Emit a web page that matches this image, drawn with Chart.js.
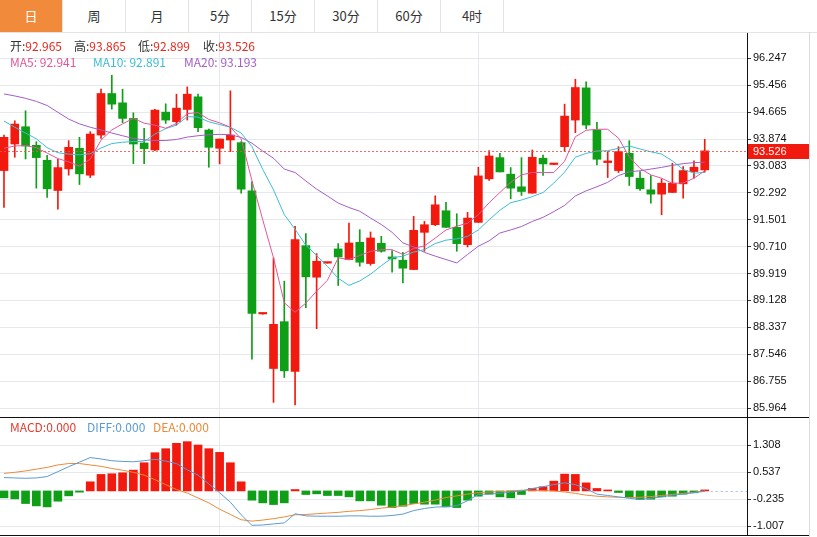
<!DOCTYPE html>
<html>
<head>
<meta charset="utf-8">
<script src="https://cdn.jsdelivr.net/npm/chart.js@4.4.1/dist/chart.umd.min.js"></script>
<style>
    html, body { margin: 0; padding: 0; background: #fff; }
    #wrap { position: relative; width: 817px; height: 537px; overflow: hidden; font-family: "Noto Sans CJK SC", "Noto Sans", sans-serif; }
    .tabs { position: absolute; left: 0; top: 0; width: 817px; height: 32px; border-bottom: 1px solid #e3e3e3; }
    .tab { position: absolute; top: 0; width: 62px; height: 32px; line-height: 32px; text-align: center; font-size: 13px; color: #333; border-right: 1px solid #e3e3e3; }
    .tab.on { background: #f28a3c; color: #fff; }
    .box { position: absolute; left: 0; width: 817px; }
    #mainBox { top: 33px; height: 384px; }
    #macdBox { top: 418px; height: 117px; }
    .hline { position: absolute; left: 0; width: 809px; height: 1px; background: #111; }
    .vline { position: absolute; left: 809px; top: 32px; width: 1px; height: 505px; background: #dadada; }
    .info { position: absolute; font-size: 12px; line-height: 16px; white-space: nowrap; z-index: 2; }
    .k { color: #333; }
    .v { color: #e8291d; }
</style>
</head>
<body>
<div id="wrap">
    <div class="tabs" id="tabs"></div>
    <div class="box" id="mainBox"><canvas id="mainChart"></canvas></div>
    <div class="hline" style="top:417px"></div>
    <div class="box" id="macdBox"><canvas id="macdChart"></canvas></div>
    <div class="hline" style="top:535px"></div>
    <div class="vline"></div>

    <div class="info" style="left:10px;top:38px"><span class="k">开:</span><span class="v" id="qOpen"></span></div>
    <div class="info" style="left:74px;top:38px"><span class="k">高:</span><span class="v" id="qHigh"></span></div>
    <div class="info" style="left:138px;top:38px"><span class="k">低:</span><span class="v" id="qLow"></span></div>
    <div class="info" style="left:203px;top:38px"><span class="k">收:</span><span class="v" id="qClose"></span></div>

    <div class="info" style="left:10px;top:54px;color:#e2579a" id="lblMa5"></div>
    <div class="info" style="left:93px;top:54px;color:#3dbdd6" id="lblMa10"></div>
    <div class="info" style="left:184px;top:54px;color:#a45ec6" id="lblMa20"></div>

    <div class="info" style="left:10px;top:419px;color:#e53a2e">MACD:0.000</div>
    <div class="info" style="left:87px;top:419px;color:#5b9bd5">DIFF:0.000</div>
    <div class="info" style="left:153px;top:419px;color:#ec8a3a">DEA:0.000</div>
</div>
<script>
// ---- data ----
const tabLabels = ['日', '周', '月', '5分', '15分', '30分', '60分', '4时'];

const opens = [92.946, 93.727, 94.235, 93.688, 93.249, 92.36, 92.995, 93.601, 92.81, 93.991,
    95.212, 94.938, 94.479, 93.757, 93.552, 94.665, 94.382, 94.743, 95.114, 94.138,
    93.601, 93.845, 93.767, 92.351, 88.73, 87.126, 88.503, 87.038, 90.739, 89.811,
    90.225, 90.642, 90.329, 90.837, 90.212, 90.808, 90.407, 90.31, 90.036, 91.13,
    91.354, 91.765, 91.276, 90.768, 91.423, 92.702, 93.327, 92.839, 92.468, 92.282,
    93.308, 93.125, 93.649, 94.431, 95.378, 94.138, 93.181, 92.946, 93.454, 92.722,
    92.38, 92.253, 92.302, 92.556, 92.917, 92.965];
const highs = [93.99, 94.41, 94.704, 93.796, 93.396, 93.278, 93.825, 93.923, 94.089, 95.339,
    95.749, 95.339, 94.645, 94.186, 94.75, 94.909, 95.192, 95.407, 95.192, 94.167,
    93.874, 95.29, 93.796, 92.624, 88.75, 90.378, 89.694, 91.306, 91.091, 90.505,
    90.235, 90.798, 91.403, 91.208, 91.14, 91.013, 90.593, 90.544, 91.599, 91.452,
    92.204, 92.009, 91.677, 91.716, 93.044, 93.532, 93.454, 93.034, 93.327, 93.552,
    93.405, 93.135, 94.899, 95.632, 95.554, 94.362, 93.503, 93.649, 93.825, 92.917,
    92.8, 92.702, 93.161, 93.063, 93.229, 93.865];
const lows = [91.86, 93.337, 93.288, 92.429, 92.156, 91.813, 92.81, 92.536, 92.741, 93.893,
    94.753, 94.352, 93.151, 93.151, 93.53, 94.333, 94.284, 94.431, 94.089, 93.044,
    93.142, 93.503, 92.282, 87.399, 88.72, 86.13, 86.862, 86.052, 88.913, 88.298,
    90.22, 89.567, 90.32, 90.134, 90.163, 90.544, 89.958, 89.645, 90.03, 90.573,
    91.325, 91.276, 90.573, 90.7, 91.42, 92.653, 92.907, 92.116, 92.214, 92.28,
    92.8, 93.12, 93.503, 94.06, 94.167, 93.112, 92.741, 92.887, 92.507, 92.36,
    91.989, 91.647, 92.3, 92.136, 92.722, 92.899];
const closes = [93.923, 94.313, 93.669, 93.327, 92.409, 93.034, 93.63, 92.849, 94.02, 95.212,
    94.899, 94.479, 93.727, 93.591, 94.724, 94.431, 94.782, 95.192, 94.206, 93.63,
    93.874, 93.991, 92.399, 88.747, 88.74, 88.425, 87.058, 90.915, 89.821, 90.28,
    90.231, 90.407, 90.817, 90.251, 90.964, 90.573, 90.349, 90.075, 91.188, 91.354,
    91.94, 91.276, 90.798, 91.55, 92.79, 93.376, 92.907, 92.429, 92.331, 93.337,
    93.142, 93.132, 94.548, 95.388, 94.284, 93.278, 93.229, 93.503, 92.77, 92.409,
    92.253, 92.575, 92.575, 92.946, 93.044, 93.526];

const ma5 = [93.60, 93.67, 93.68, 93.62, 93.46, 93.30, 93.20, 93.08, 93.28, 93.84,
    94.14, 94.32, 94.48, 94.34, 94.28, 94.19, 94.33, 94.62, 94.65, 94.45,
    94.35, 94.22, 93.88, 92.65, 91.50, 90.38, 89.06, 88.78, 89.05, 89.40,
    89.72, 90.38, 90.33, 90.45, 90.57, 90.62, 90.62, 90.48, 90.66, 90.73,
    90.96, 91.20, 91.31, 91.40, 91.65, 92.00, 92.30, 92.60, 92.82, 92.89,
    92.89, 92.89, 93.22, 93.94, 94.13, 94.16, 94.16, 93.90, 93.35, 93.01,
    92.82, 92.72, 92.57, 92.58, 92.72, 92.941];
const ma10 = [94.40, 94.22, 94.05, 93.88, 93.62, 93.47, 93.43, 93.41, 93.44, 93.61,
    93.74, 93.78, 93.80, 93.80, 94.02, 94.18, 94.28, 94.53, 94.52, 94.38,
    94.30, 94.22, 94.05, 93.65, 92.98, 92.38, 91.65, 91.22, 90.75, 90.45,
    90.13, 89.78, 89.57, 89.70, 89.90, 90.15, 90.38, 90.43, 90.55, 90.62,
    90.80, 90.90, 90.94, 91.01, 91.20, 91.50, 91.78, 92.00, 92.08, 92.18,
    92.30, 92.58, 92.90, 93.34, 93.45, 93.52, 93.53, 93.60, 93.67, 93.58,
    93.50, 93.43, 93.23, 92.98, 92.87, 92.891];
const ma20 = [95.20, 95.14, 95.07, 94.98, 94.86, 94.66, 94.46, 94.32, 94.22, 94.14,
    94.05, 93.97, 93.89, 93.85, 93.83, 93.83, 93.86, 93.93, 93.97, 94.00,
    94.01, 94.00, 93.92, 93.75, 93.52, 93.31, 92.99, 92.89, 92.64, 92.40,
    92.20, 91.99, 91.86, 91.75, 91.55, 91.36, 91.13, 90.82, 90.70, 90.54,
    90.43, 90.33, 90.23, 90.48, 90.72, 90.88, 91.11, 91.20, 91.30, 91.45,
    91.57, 91.74, 91.92, 92.20, 92.35, 92.47, 92.60, 92.80, 92.91, 92.94,
    92.99, 93.04, 93.10, 93.15, 93.18, 93.193];

const macdHist = [-0.197, -0.226, -0.359, -0.426, -0.455, -0.293, -0.14, -0.035, 0.26, 0.47,
    0.49, 0.517, 0.593, 0.803, 1.089, 1.203, 1.356, 1.403, 1.308, 1.203,
    1.098, 0.803, 0.26, -0.264, -0.34, -0.388, -0.34, 0.04, -0.102, -0.083,
    -0.131, -0.131, -0.169, -0.283, -0.283, -0.407, -0.474, -0.436, -0.359, -0.378,
    -0.378, -0.455, -0.474, -0.264, -0.15, -0.092, -0.169, -0.197, -0.102, 0.07,
    0.117, 0.279, 0.479, 0.47, 0.23, 0.07, 0.02, -0.045, -0.169, -0.245,
    -0.236, -0.169, -0.15, -0.092, -0.054, 0.005];
const diffLine = [0.38, 0.37, 0.36, 0.37, 0.41, 0.55, 0.69, 0.82, 0.95, 0.91,
    0.86, 0.84, 0.83, 0.86, 0.90, 0.85, 0.78, 0.60, 0.45, 0.20,
    -0.05, -0.32, -0.68, -0.98, -0.97, -0.94, -0.91, -0.65, -0.71, -0.72,
    -0.72, -0.72, -0.71, -0.71, -0.72, -0.72, -0.70, -0.66, -0.56, -0.50,
    -0.46, -0.45, -0.42, -0.28, -0.10, -0.09, -0.07, -0.03, 0.00, 0.07,
    0.12, 0.18, 0.23, 0.18, 0.06, -0.09, -0.13, -0.17, -0.21, -0.24,
    -0.21, -0.17, -0.12, -0.09, -0.05, -0.01];
const deaLine = [0.50, 0.53, 0.57, 0.62, 0.67, 0.74, 0.78, 0.78, 0.74, 0.70,
    0.64, 0.59, 0.53, 0.45, 0.32, 0.18, 0.04, -0.06, -0.20, -0.34,
    -0.52, -0.67, -0.82, -0.86, -0.83, -0.79, -0.74, -0.68, -0.67, -0.65,
    -0.63, -0.61, -0.58, -0.56, -0.53, -0.49, -0.46, -0.42, -0.37, -0.32,
    -0.26, -0.19, -0.14, -0.09, -0.05, -0.03, -0.02, 0.00, 0.02, 0.02,
    0.01, 0.00, -0.03, -0.07, -0.12, -0.15, -0.17, -0.18, -0.19, -0.18,
    -0.16, -0.13, -0.10, -0.07, -0.04, 0.00];

const priceTicks = ['96.247', '95.456', '94.665', '93.874', '93.083', '92.292', '91.501',
    '90.710', '89.919', '89.128', '88.337', '87.546', '86.755', '85.964'];
const macdTicks = ['1.308', '0.537', '-0.235', '-1.007'];
const monthBreaks = [20, 44];
const maLast = ['92.941', '92.891', '93.193'];

// ---- look ----
const UP = '#f2190e';
const DOWN = '#0f9f16';
const GRID = '#e5e9ee';
const MA_COLORS = ['#e2579a', '#3dbdd6', '#a45ec6'];
const X_MIN = -0.37, X_MAX = 68.92;
const AXIS_FONT = { family: 'Liberation Sans', size: 11 };

// tabs
const tabs = document.getElementById('tabs');
tabLabels.forEach((t, i) => {
    const d = document.createElement('div');
    d.className = 'tab' + (i === 0 ? ' on' : '');
    d.style.left = (i * 63) + 'px';
    d.textContent = t;
    tabs.appendChild(d);
});

const n = closes.length;
document.getElementById('qOpen').textContent = opens[n - 1].toFixed(3);
document.getElementById('qHigh').textContent = highs[n - 1].toFixed(3);
document.getElementById('qLow').textContent = lows[n - 1].toFixed(3);
document.getElementById('qClose').textContent = closes[n - 1].toFixed(3);
document.getElementById('lblMa5').textContent = 'MA5: ' + maLast[0];
document.getElementById('lblMa10').textContent = 'MA10: ' + maLast[1];
document.getElementById('lblMa20').textContent = 'MA20: ' + maLast[2];

const candleColors = closes.map((c, i) => c >= opens[i] ? UP : DOWN);
const wickData = closes.map((c, i) => ({ x: i, y: [lows[i], highs[i]] }));
const bodyData = closes.map((c, i) => ({ x: i, y: [Math.min(opens[i], c), Math.max(opens[i], c)] }));
const toXY = arr => arr.map((v, i) => ({ x: i, y: v }));

function xScale() {
    return {
        type: 'linear',
        min: X_MIN,
        max: X_MAX,
        bounds: 'data',
        offset: false,
        afterBuildTicks: s => { s.ticks = monthBreaks.map(v => ({ value: v })); },
        ticks: { display: false },
        grid: { color: GRID, drawTicks: false, offset: false },
        border: { display: false },
        afterFit: s => { s.height = 0; }
    };
}

function yScale(min, max, labels) {
    return {
        position: 'right',
        min: min,
        max: max,
        bounds: 'data',
        afterBuildTicks: s => { s.ticks = labels.map(t => ({ value: parseFloat(t) })); },
        ticks: {
            autoSkip: false,
            padding: 2,
            color: '#111',
            font: AXIS_FONT,
            callback: v => v.toFixed(3)
        },
        grid: { color: GRID, tickColor: '#333', tickLength: 4 },
        border: { color: '#111' },
        afterFit: s => { s.width = 70; s.paddingTop = 0; s.paddingBottom = 0; }
    };
}

const lastPricePlugin = {
    id: 'lastPrice',
    afterDatasetsDraw(chart) {
        const { ctx, chartArea, scales } = chart;
        const y = Math.round(scales.y.getPixelForValue(closes[n - 1])) + 0.5;
        ctx.save();
        ctx.strokeStyle = 'rgba(240, 80, 70, 0.85)';
        ctx.lineWidth = 1.2;
        ctx.setLineDash([2, 2]);
        ctx.beginPath();
        ctx.moveTo(chartArea.left, y);
        ctx.lineTo(chartArea.right, y);
        ctx.stroke();
        ctx.restore();
    },
    afterDraw(chart) {
        const { ctx, chartArea, scales } = chart;
        const y = Math.round(scales.y.getPixelForValue(closes[n - 1]));
        ctx.save();
        ctx.fillStyle = UP;
        ctx.fillRect(chartArea.right + 1, y - 7, 61, 15);
        ctx.fillStyle = '#fff';
        ctx.font = '11px "Liberation Sans"';
        ctx.textBaseline = 'middle';
        ctx.fillText(closes[n - 1].toFixed(3), chartArea.right + 6, y + 1);
        ctx.restore();
    }
};

new Chart(document.getElementById('mainChart'), {
    type: 'bar',
    data: {
        datasets: [
            { type: 'line', data: toXY(ma5), borderColor: MA_COLORS[0], borderWidth: 1, pointRadius: 0, tension: 0, order: 0 },
            { type: 'line', data: toXY(ma10), borderColor: MA_COLORS[1], borderWidth: 1, pointRadius: 0, tension: 0, order: 0 },
            { type: 'line', data: toXY(ma20), borderColor: MA_COLORS[2], borderWidth: 1, pointRadius: 0, tension: 0, order: 0 },
            { data: wickData, backgroundColor: candleColors, barThickness: 1, grouped: false, order: 2 },
            { data: bodyData, backgroundColor: candleColors, barThickness: 8, minBarLength: 1.5, grouped: false, order: 1 }
        ]
    },
    options: {
        responsive: true,
        maintainAspectRatio: false,
        animation: false,
        layout: { padding: 0 },
        plugins: { legend: { display: false }, tooltip: { enabled: false } },
        scales: {
            x: xScale(),
            y: yScale(85.700, 96.991, priceTicks)
        }
    },
    plugins: [lastPricePlugin]
});

const zeroTailPlugin = {
    id: 'zeroTail',
    afterDatasetsDraw(chart) {
        const { ctx, chartArea, scales } = chart;
        const y = Math.round(scales.y.getPixelForValue(0)) + 0.5;
        const x0 = scales.x.getPixelForValue(n - 1) + 6;
        ctx.save();
        ctx.strokeStyle = '#9cc4e8';
        ctx.lineWidth = 1;
        ctx.setLineDash([2, 3]);
        ctx.beginPath();
        ctx.moveTo(x0, y);
        ctx.lineTo(chartArea.right, y);
        ctx.stroke();
        ctx.restore();
    }
};

new Chart(document.getElementById('macdChart'), {
    type: 'bar',
    data: {
        datasets: [
            { type: 'line', data: toXY(diffLine), borderColor: '#5b9bd5', borderWidth: 1, pointRadius: 0, tension: 0, order: 0 },
            { type: 'line', data: toXY(deaLine), borderColor: '#ec8a3a', borderWidth: 1, pointRadius: 0, tension: 0, order: 0 },
            {
                data: toXY(macdHist),
                backgroundColor: macdHist.map(v => v >= 0 ? UP : DOWN),
                barThickness: 8,
                minBarLength: 1,
                grouped: false,
                order: 1
            }
        ]
    },
    options: {
        responsive: true,
        maintainAspectRatio: false,
        animation: false,
        layout: { padding: 0 },
        plugins: { legend: { display: false }, tooltip: { enabled: false } },
        scales: {
            x: xScale(),
            y: yScale(-1.255, 2.077, macdTicks)
        }
    },
    plugins: [zeroTailPlugin]
});
</script>
</body>
</html>
